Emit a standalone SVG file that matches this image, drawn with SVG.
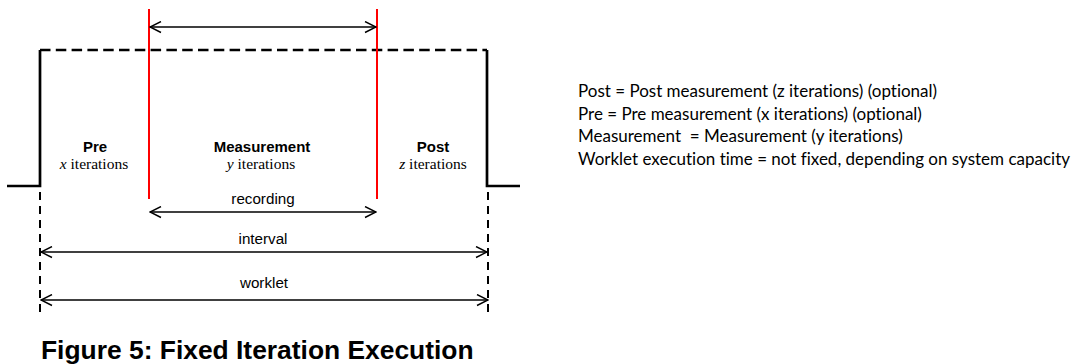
<svg xmlns="http://www.w3.org/2000/svg" width="1083" height="364" viewBox="0 0 1083 364">
<defs>
<marker id="arr" viewBox="0 0 13 13" refX="12" refY="6.5" markerWidth="13" markerHeight="13" markerUnits="userSpaceOnUse" orient="auto-start-reverse">
<path d="M1,1 L12,6.5 L1,12" fill="none" stroke="#000" stroke-width="1.4"/>
</marker>
<style>
.sig{fill:none;stroke:#000;stroke-width:2.7}
.dash{fill:none;stroke:#000;stroke-width:2.7;stroke-dasharray:10.5,5.3}
.vdash{fill:none;stroke:#000;stroke-width:2;stroke-dasharray:8,6}
.red{stroke:#ff0000;stroke-width:2}
.arrow{stroke:#000;stroke-width:1.4;marker-start:url(#arr);marker-end:url(#arr)}
.b{font-family:"Liberation Sans",Arial,sans-serif;font-weight:bold;font-size:15px;text-anchor:middle;fill:#000}
.t{font-family:"Liberation Serif","Times New Roman",serif;font-size:15.5px;text-anchor:middle;fill:#000}
.l{font-family:"Liberation Sans",Arial,sans-serif;font-size:15.2px;text-anchor:middle;fill:#000}
.n{font-family:Lato,"Open Sans",sans-serif;font-size:17px;font-variant-ligatures:none;fill:#000}
.cap{font-family:"Liberation Sans",Arial,sans-serif;font-weight:bold;font-size:26.4px;fill:#000}
</style>
</defs>
<g id="signal">
<polyline class="sig" points="7,186 40,186 40,50"/>
<line class="dash" x1="40" y1="50" x2="487" y2="50"/>
<polyline class="sig" points="487,50 487,186 520,186"/>
</g>
<g id="markers">
<line class="red" x1="149" y1="9" x2="149" y2="199"/>
<line class="red" x1="377" y1="9" x2="377" y2="199"/>
<line class="vdash" x1="40" y1="192" x2="40" y2="316"/>
<line class="vdash" x1="488" y1="192" x2="488" y2="316"/>
</g>
<g id="connectors">
<line class="arrow" x1="150" y1="27" x2="376" y2="27"/>
<line class="arrow" x1="150" y1="212" x2="376" y2="212"/>
<line class="arrow" x1="41" y1="252" x2="487" y2="252"/>
<line class="arrow" x1="41" y1="300" x2="488" y2="300"/>
</g>
<g id="pre">
<text class="b" x="95" y="152">Pre</text>
<text class="t" x="94" y="169"><tspan font-style="italic">x</tspan> iterations</text>
</g>
<g id="measurement">
<text class="b" x="262" y="152">Measurement</text>
<text class="t" x="261" y="169"><tspan font-style="italic">y</tspan> iterations</text>
</g>
<g id="post">
<text class="b" x="433" y="152">Post</text>
<text class="t" x="433" y="169"><tspan font-style="italic">z</tspan> iterations</text>
</g>
<g id="labels">
<text class="l" x="263" y="204">recording</text>
<text class="l" x="263" y="244">interval</text>
<text class="l" x="264" y="288">worklet</text>
</g>
<g id="legend">
<text class="n" x="578" y="97">Post = Post measurement (z iterations) (optional)</text>
<text class="n" x="578" y="119.5">Pre = Pre measurement (x iterations) (optional)</text>
<text class="n" x="578" y="142" xml:space="preserve">Measurement  = Measurement (y iterations)</text>
<text class="n" x="578" y="164.5">Worklet execution time = not fixed, depending on system capacity</text>
</g>
<text class="cap" x="41" y="359">Figure 5: Fixed Iteration Execution</text>
</svg>
